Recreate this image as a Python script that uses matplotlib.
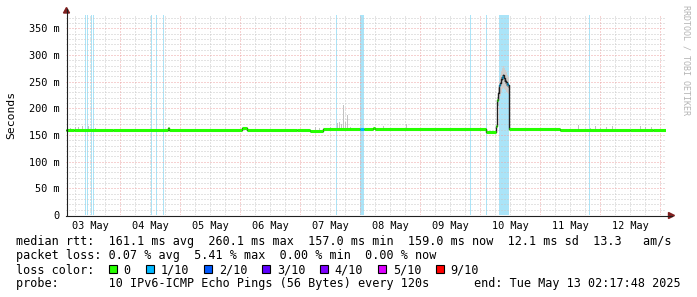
import numpy as np
import matplotlib
matplotlib.use("Agg")
import matplotlib.pyplot as plt
from matplotlib.lines import Line2D
from matplotlib.patches import Polygon, Rectangle

W, H = 697, 297
MONO = "DejaVu Sans Mono"

# time axis in hours after 03 May 00:00, graph ends 13 May 02:17:48
t_end = 242.297
t_start = t_end - 240

day_labels = ["03 May", "04 May", "05 May", "06 May", "07 May",
              "08 May", "09 May", "10 May", "11 May", "12 May"]
day_noon = [12, 36, 60, 84, 108, 132, 156, 180, 204, 228]

y_ticks = [0, 50, 100, 150, 200, 250, 300, 350]
y_labels = ["0", "50 m", "100 m", "150 m", "200 m", "250 m", "300 m", "350 m"]

# median rtt (ms) as steps starting at median_t; median_col = loss class of the step
# (None: mixed loss, only the thin dark line shows)
median_t = [2.3, 5.5, 21.1, 43.1, 43.5, 72.7, 74.7, 94.7, 99.9, 105.1,
            119.9, 121.5, 125.1, 125.9, 170.3, 174.3, 174.7, 175.1, 175.5, 175.9,
            176.3, 176.7, 177.1, 177.5, 177.9, 178.3, 178.7, 179.1, 179.5, 199.9,
            227.9, 237.1]
median_v = [158.5, 159.5, 160, 162.5, 159.5, 162.5, 158.5, 159.5, 157.5, 160.5,
            161, 160.5, 162.5, 160.5, 156.5, 167, 216, 229, 243, 247,
            255, 259, 262, 256, 252, 249, 246, 244, 160.5, 160,
            159, 160]
median_col = [0, 0, 0, 0, 0, 0, 0, 0, 0, 0,
              1, 0, 0, 0, 0, 0, 0, None, 1, None,
              None, 1, None, None, None, None, 1, None, 0, 0,
              0, 0]

# smoke around the 10 May peak (outer and inner bands)
spike_t = [174.7, 175.1, 175.5, 175.9, 176.3, 176.7, 177.1, 177.5, 177.9, 178.3, 178.7, 179.1]
spike_lo = [170, 205, 215, 224, 230, 236, 238, 236, 234, 230, 228, 226]
spike_hi = [222, 238, 252, 262, 270, 276, 279, 276, 272, 268, 263, 258]
spike_ilo = [205, 224, 238, 242, 248, 252, 254, 250, 246, 242, 240, 238]
spike_ihi = [212, 230, 244, 250, 258, 262, 265, 261, 257, 253, 250, 248]

# single smoke spikes above the median elsewhere
smoke_t = [3.9, 5.9, 7.1, 8.7, 11.1, 13.9, 101.9, 103.5, 107.9, 110.7,
           111.5, 112.3, 113.1, 113.9, 114.7, 115.9, 129.1, 131.1, 138.3, 151.9,
           156.3, 207.1, 211.9, 213.9, 215.9, 218.3, 220.7, 231.9, 233.9, 236.3]
smoke_top = [164, 165, 165, 166, 167, 163, 165, 164, 165, 172,
             175, 170, 206, 175, 187, 165, 167, 163, 171, 164,
             163, 168, 164, 166, 163, 165, 166, 167, 165, 165]

# periods with packet loss (hours)
loss_start = [10.0, 10.8, 12.3, 13.1, 36.3, 38.3, 41.1, 110.3, 119.9, 163.9, 170.3, 175.5, 211.5]
loss_end = [10.4, 11.2, 12.7, 13.5, 36.7, 38.7, 41.5, 110.7, 121.5, 164.3, 170.7, 179.5, 211.9]

loss_names = ["0", "1/10", "2/10", "3/10", "4/10", "5/10", "9/10"]
loss_colors = ["#26ff00", "#00b8ff", "#0059ff", "#5e00ff", "#7e00ff", "#dd00ff", "#ff0000"]

GRID = "#c8c8c8"
MGRID = "#eea4a4"
LOSS_BG = "#aae4f8"
ARROW = "#7f1f1f"

fig = plt.figure(figsize=(W / 100, H / 100), dpi=100)
fig.patch.set_facecolor("white")
ax = fig.add_axes([66 / W, 82 / H, 600 / W, 200 / H])
ax.set_xlim(t_start, t_end)
ax.set_ylim(0, 375)
for s in ax.spines.values():
    s.set_visible(False)

# loss background
for s, e in zip(loss_start, loss_end):
    ax.axvspan(s, e, color=LOSS_BG, lw=0, zorder=0.2)

# grid
for v in range(10, 375, 10):
    if v % 50:
        ax.axhline(v, color=GRID, lw=0.72, dashes=(1, 2), zorder=0.5)
for h in np.arange(6, t_end, 6):
    if h > t_start and h % 24:
        ax.axvline(h, color=GRID, lw=0.72, dashes=(1, 2), zorder=0.5)
for v in range(50, 375, 50):
    ax.axhline(v, color=MGRID, lw=0.72, dashes=(1, 2), zorder=0.6)
for h in np.arange(24, t_end, 24):
    ax.axvline(h, color=MGRID, lw=0.72, dashes=(1, 2), zorder=0.6)

# smoke
ax.bar(smoke_t, np.array(smoke_top) - 158, bottom=158, width=0.4, align="edge",
       color="#c2c2c2", lw=0, zorder=1)
ax.fill_between(spike_t + [179.5], spike_lo + [spike_lo[-1]], spike_hi + [spike_hi[-1]],
                step="post", color="#cdcdcd", lw=0, zorder=1.1)
ax.fill_between(spike_t + [179.5], spike_ilo + [spike_ilo[-1]], spike_ihi + [spike_ihi[-1]],
                step="post", color="#9c9c9c", lw=0, zorder=1.2)

# median: thin dark line, then loss-coloured thick steps
ax.step(median_t + [t_end], median_v + [median_v[-1]], where="post",
        color="#202020", lw=1.0, zorder=2)
ends = median_t[1:] + [t_end]
for t0, t1, v, c in zip(median_t, ends, median_v, median_col):
    if c is None:
        continue
    ax.plot([t0, t1], [v, v], color=loss_colors[c], lw=2.2, solid_capstyle="butt", zorder=3)

# ticks
ax.set_yticks(y_ticks)
ax.set_yticklabels(y_labels, family=MONO, fontsize=7.4)
ax.set_xticks(day_noon)
ax.set_xticklabels(day_labels, family=MONO, fontsize=7.4)
ax.tick_params(axis="y", length=0, pad=4.6)
ax.tick_params(axis="x", length=0, pad=4.2)

# axes with arrows
fig.add_artist(Line2D([66.5 / W, 66.5 / W], [1 - 215 / H, 1 - 9 / H], color="#202020", lw=0.8))
fig.add_artist(Line2D([66 / W, 672 / W], [1 - 215.5 / H, 1 - 215.5 / H], color="#202020", lw=0.8))
fig.add_artist(Polygon([[66.5 / W, 1 - 7.5 / H], [63.5 / W, 1 - 13 / H], [69.5 / W, 1 - 13 / H]],
                       closed=True, color=ARROW, transform=fig.transFigure))
fig.add_artist(Polygon([[674.5 / W, 1 - 215.5 / H], [668.5 / W, 1 - 212.5 / H], [668.5 / W, 1 - 218.5 / H]],
                       closed=True, color=ARROW, transform=fig.transFigure))

fig.text(11 / W, 1 - 115 / H, "Seconds", rotation=90, ha="center", va="center",
         family=MONO, fontsize=8.2)
fig.text(686 / W, 1 - 5 / H, "RRDTOOL / TOBI OETIKER", rotation=-90, ha="center", va="top",
         family=MONO, fontsize=6, color="#b4b4b4")

# legend
fs = 8.5
rows = [
    "median rtt:  161.1 ms avg  260.1 ms max  157.0 ms min  159.0 ms now  12.1 ms sd  13.3   am/s",
    "packet loss: 0.07 % avg  5.41 % max  0.00 % min  0.00 % now",
]
for i, r in enumerate(rows):
    fig.text(16 / W, 1 - (245.5 + 14 * i) / H, r, family=MONO, fontsize=fs, va="baseline")
fig.text(16 / W, 1 - 273.5 / H, "loss color:", family=MONO, fontsize=fs, va="baseline")
box_x = [108.5, 146, 204, 262, 320, 378, 436]
for bx, name, col in zip(box_x, loss_names, loss_colors):
    fig.add_artist(Rectangle((bx / W, 1 - 273 / H), 8 / W, 8 / H, facecolor=col,
                             edgecolor="black", lw=0.8, transform=fig.transFigure))
    fig.text((bx + 14.7) / W, 1 - 273.5 / H, name, family=MONO, fontsize=fs, va="baseline")
fig.text(16 / W, 1 - 287.5 / H, "probe:       10 IPv6-ICMP Echo Pings (56 Bytes) every 120s",
         family=MONO, fontsize=fs, va="baseline")
fig.text(681 / W, 1 - 287.5 / H, "end: Tue May 13 02:17:48 2025", family=MONO, fontsize=fs,
         va="baseline", ha="right")

fig.savefig("out.png", dpi=100, facecolor="white")
